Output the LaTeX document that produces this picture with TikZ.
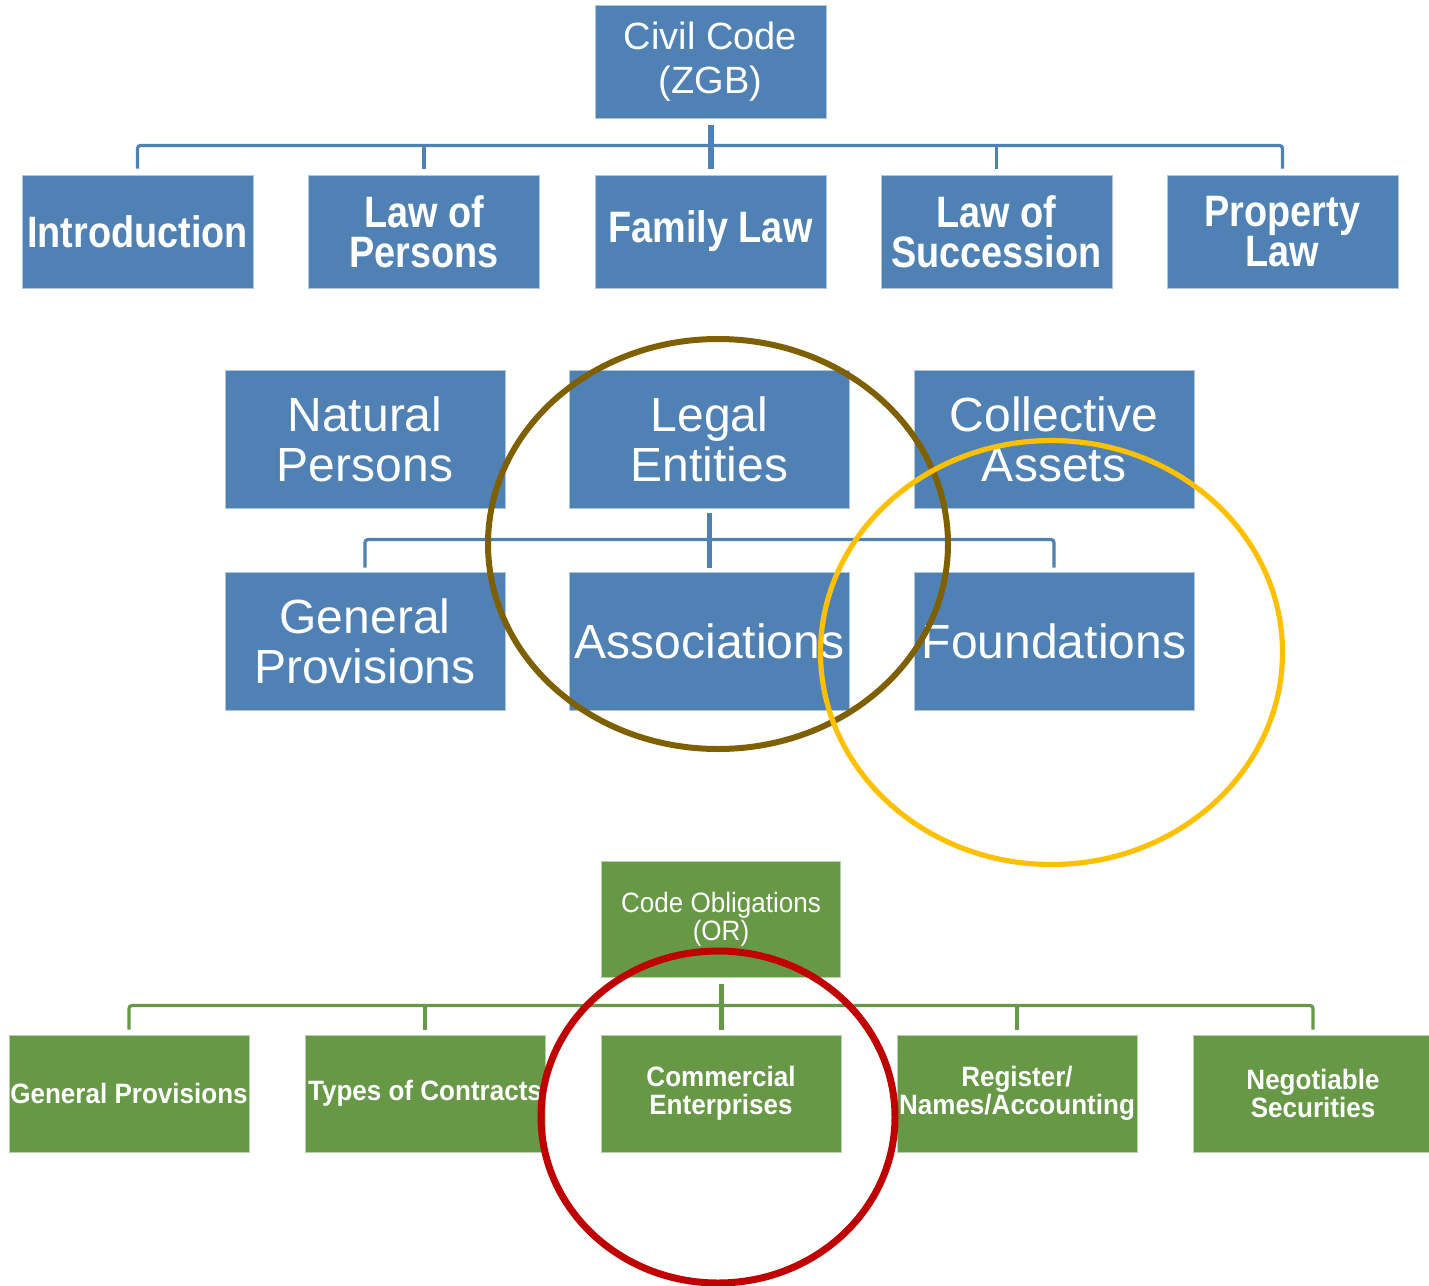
\documentclass[tikz,border=0pt]{standalone}
\usepackage{fontspec}
\setmainfont{Liberation Sans}
\newfontfamily\condA[FakeStretch=0.86]{Liberation Sans}
\newfontfamily\condB[FakeStretch=0.93]{Liberation Sans}
\usetikzlibrary{calc}
\definecolor{boxblue}{HTML}{4F81B4}
\definecolor{boxgreen}{HTML}{679846}
\definecolor{ringbrown}{HTML}{7F6000}
\definecolor{ringyellow}{HTML}{FFC000}
\definecolor{ringred}{HTML}{C00000}
\tikzset{
  bluebox/.style={fill=boxblue, draw=boxblue!45!white, line width=0.5pt,
    text=white, align=center, inner sep=0pt},
  greenbox/.style={fill=boxgreen, draw=boxgreen!45!white, line width=0.5pt,
    text=white, align=center, inner sep=0pt},
  toprow/.style={bluebox, minimum width=115.5pt, minimum height=56.5pt,
    font=\condA\bfseries\fontsize{22}{20}\selectfont},
  midrow/.style={bluebox, minimum width=140pt, minimum height=69pt,
    font=\fontsize{24}{25}\selectfont},
  lowrow/.style={greenbox, minimum width=120pt, minimum height=58.5pt,
    font=\condB\bfseries\fontsize{14}{14}\selectfont},
  bluestem/.style={draw=boxblue, line width=3pt},
  bluelink/.style={draw=boxblue, line width=1.6pt, rounded corners=1.5pt},
  greenstem/.style={draw=boxgreen, line width=2.5pt},
  greenlink/.style={draw=boxgreen, line width=1.6pt, rounded corners=1.5pt},
}
\begin{document}
\begin{tikzpicture}[x=0.5pt, y=-0.5pt]
\fill[white] (0,0) rectangle (1429,1285);
\useasboundingbox (0,0) rectangle (1429,1285);

% Civil Code and its five books
\node[bluebox, minimum width=115.5pt, minimum height=56.5pt,
      font=\fontsize{19}{22}\selectfont] (zgb) at (710.5,61.5) {Civil Code\\(ZGB)};
\node[toprow] (intro) at (137.5,231.5) {Introduction};
\node[toprow] (pers)  at (424,231.5)   {Law of\\Persons};
\node[toprow] (fam)   at (710.5,231.5) {Family Law};
\node[toprow] (succ)  at (996.5,231.5) {Law of\\Succession};
\node[toprow] (prop)  at (1282.5,231.5){Property\\Law};

\draw[bluelink] ($(intro.north)+(0,-6)$) |- ($(prop.north)+(0,-29)$) -- ($(prop.north)+(0,-6)$);
\foreach \n in {pers,succ} \draw[bluelink] ($(\n.north)+(0,-6)$) -- ($(\n.north)+(0,-29)$);
\draw[bluestem] ($(zgb.south)+(0,6)$) -- ($(fam.north)+(0,-6)$);

% Law of persons
\node[midrow] (natp) at (365,439)   {Natural\\Persons};
\node[midrow] (legal) at (709.5,439) {Legal\\Entities};
\node[midrow] (coll) at (1054,439)  {Collective\\Assets};
\node[midrow] (genp) at (365,641)   {General\\Provisions};
\node[midrow] (assoc) at (709.5,641) {Associations};
\node[midrow] (found) at (1054,641) {Foundations};

\draw[bluelink] ($(genp.north)+(0,-4)$) |- ($(found.north)+(0,-32)$) -- ($(found.north)+(0,-4)$);
\draw[bluestem, line width=2.5pt] ($(legal.south)+(0,4)$) -- ($(assoc.north)+(0,-4)$);

% Code of Obligations and its divisions
\node[greenbox, minimum width=119.5pt, minimum height=58pt,
      font=\condB\fontsize{14}{14}\selectfont] (or) at (721,919) {Code Obligations\\(OR)};
\node[lowrow] (gen)  at (129,1093.5)  {General Provisions};
\node[lowrow] (types) at (425,1093.5) {Types of Contracts};
\node[lowrow] (comm) at (721,1093.5)  {Commercial\\Enterprises};
\node[lowrow] (reg)  at (1017,1093.5) {Register/\\Names/Accounting};
\node[lowrow] (neg)  at (1313,1093.5) {Negotiable\\Securities};

\draw[greenlink] ($(gen.north)+(0,-5)$) |- ($(neg.north)+(0,-29)$) -- ($(neg.north)+(0,-5)$);
\foreach \n in {types,reg} \draw[greenlink] ($(\n.north)+(0,-5)$) -- ($(\n.north)+(0,-29)$);
\draw[greenstem] ($(or.south)+(0,6)$) -- ($(comm.north)+(0,-5)$);

% highlight rings
\draw[ringbrown, line width=3pt] (718,544) ellipse [x radius=115pt, y radius=102.5pt];
\draw[ringyellow, line width=2.6pt] (1051.5,652.5) ellipse [x radius=115.5pt, y radius=106pt];
\draw[ringred, line width=3.5pt] (718,1117) ellipse [x radius=88.5pt, y radius=83pt];
\end{tikzpicture}
\end{document}
